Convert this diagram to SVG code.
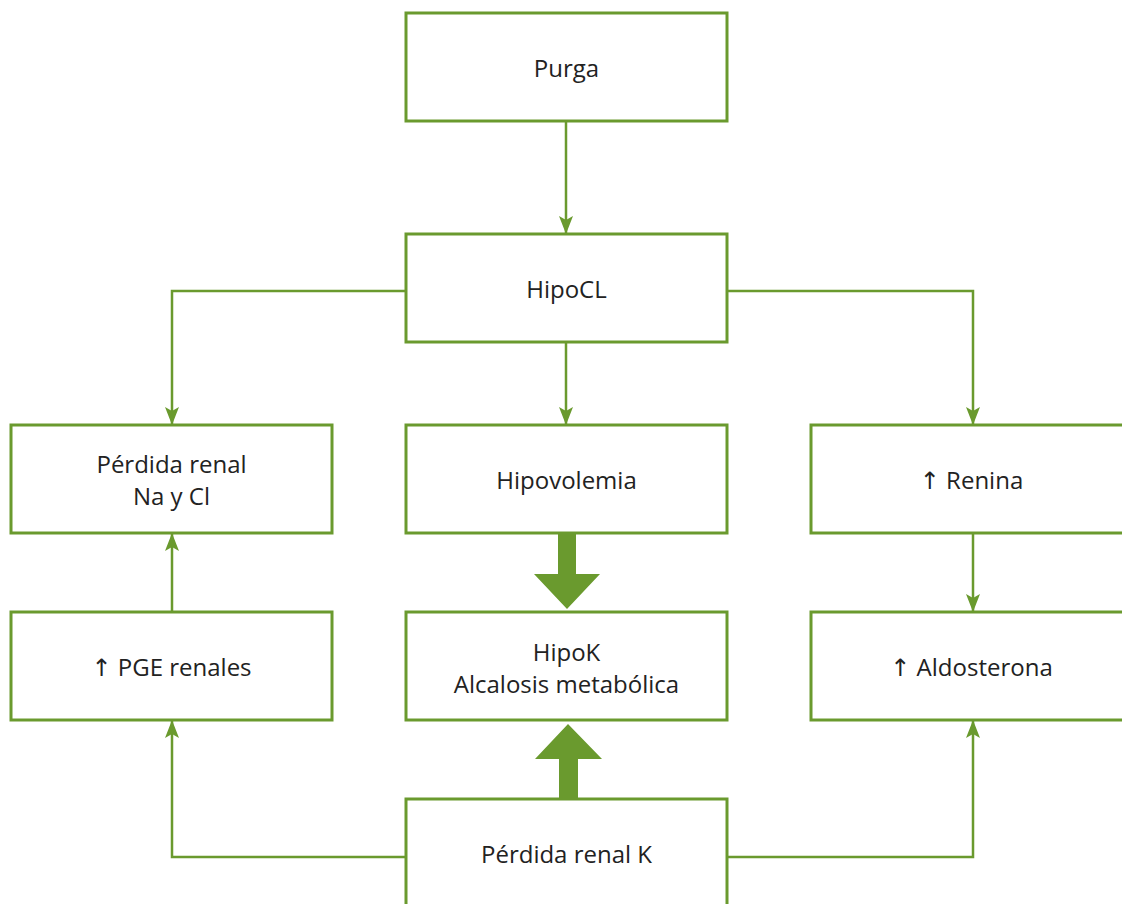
<svg xmlns="http://www.w3.org/2000/svg" width="1122" height="904" viewBox="0 0 1122 904">
<style>
.box{fill:#fff;stroke:#6a9a2e;stroke-width:3}
.t{font-family:"Open Sans","Noto Sans",sans-serif;font-size:24px;fill:#222;text-anchor:middle}
.ar{font-family:"DejaVu Sans",sans-serif;font-size:24px;font-weight:normal}
.c{fill:none;stroke:#6a9a2e;stroke-width:2.5}
.big{fill:#6a9a2e}
</style>
<defs>
<marker id="ah" markerUnits="userSpaceOnUse" markerWidth="18" markerHeight="14" refX="17" refY="7" orient="auto-start-reverse" viewBox="0 0 18 14">
<path d="M0,0 L18,7 L0,14 L4,7 Z" fill="#6a9a2e"/>
</marker>
</defs>
<g id="connectors">
<path class="c" d="M566,121 V233" marker-end="url(#ah)"/>
<path class="c" d="M406,291 H172 V424" marker-end="url(#ah)"/>
<path class="c" d="M727,291 H973 V424" marker-end="url(#ah)"/>
<path class="c" d="M566,342 V424" marker-end="url(#ah)"/>
<path class="c" d="M973,533 V611" marker-end="url(#ah)"/>
<path class="c" d="M172,612 V534" marker-end="url(#ah)"/>
<path class="c" d="M406,857 H172 V721" marker-end="url(#ah)"/>
<path class="c" d="M727,857 H973 V721" marker-end="url(#ah)"/>
<path class="big" d="M558,533 H576 V574 H600 L567,609 L534,574 H558 Z"/>
<path class="big" d="M559,799 H578 V759 H602 L568,724 L535,759 H559 Z"/>
</g>
<g id="purga"><rect class="box" x="406" y="13" width="321" height="108"/><text class="t" x="566.5" y="77">Purga</text></g>
<g id="hipocl"><rect class="box" x="406" y="234" width="321" height="108"/><text class="t" x="566.5" y="298">HipoCL</text></g>
<g id="perdida-nacl"><rect class="box" x="11" y="425" width="321" height="108"/><text class="t" x="171.5" y="473">Pérdida renal</text><text class="t" x="171.5" y="505">Na y Cl</text></g>
<g id="hipovolemia"><rect class="box" x="406" y="425" width="321" height="108"/><text class="t" x="566.5" y="489">Hipovolemia</text></g>
<g id="renina"><rect class="box" x="811" y="425" width="321" height="108"/><text class="t" x="971.5" y="489"><tspan class="ar">↑</tspan> Renina</text></g>
<g id="pge"><rect class="box" x="11" y="612" width="321" height="108"/><text class="t" x="171.5" y="676"><tspan class="ar">↑</tspan> PGE renales</text></g>
<g id="hipok"><rect class="box" x="406" y="612" width="321" height="108"/><text class="t" x="566.5" y="661">HipoK</text><text class="t" x="566.5" y="693">Alcalosis metabólica</text></g>
<g id="aldosterona"><rect class="box" x="811" y="612" width="321" height="108"/><text class="t" x="971.5" y="676"><tspan class="ar">↑</tspan> Aldosterona</text></g>
<g id="perdida-k"><rect class="box" x="406" y="799" width="321" height="116"/><text class="t" x="566.5" y="863">Pérdida renal K</text></g>
</svg>
